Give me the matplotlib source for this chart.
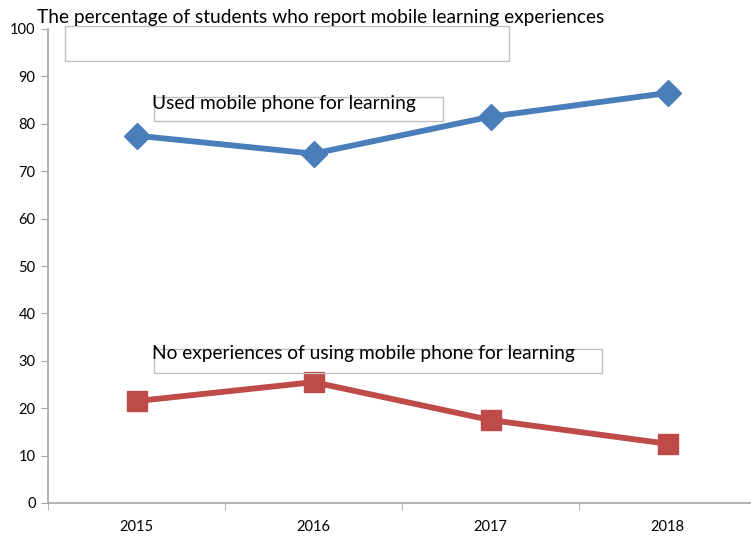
import matplotlib.pyplot as plt
from matplotlib.patches import Rectangle

years = ["2015", "2016", "2017", "2018"]
used_mobile = [77.5, 73.7, 81.5, 86.5]
no_experience = [21.5, 25.5, 17.5, 12.5]
title = "The percentage of students who report mobile learning experiences"
label_used = "Used mobile phone for learning"
label_none = "No experiences of using mobile phone for learning"

W, H = 751, 536
plt.rcParams['font.family'] = ['Lato', 'DejaVu Sans']

fig = plt.figure(figsize=(W / 100, H / 100), dpi=100)
# the plot area runs a little past the right edge, as in the original
ax = fig.add_axes([48 / W, 33 / H, 708 / W, 474 / H])

x = list(range(1, len(years) + 1))
ax.plot(x, used_mobile, color='#4a7ebb', lw=4.2, marker='D', ms=13.5,
        solid_joinstyle='round', clip_on=False)
ax.plot(x, no_experience, color='#be4b48', lw=4.2, marker='s', ms=15,
        solid_joinstyle='round', clip_on=False)

ax.set_ylim(0, 100)
ax.set_yticks(range(0, 101, 10))
ax.set_xlim(0.5, 4.5)
ax.set_xticks(x)
ax.set_xticklabels(years)
ax.set_xticks([0.5, 1.5, 2.5, 3.5, 4.5], minor=True)
ax.tick_params(axis='x', which='major', length=0, pad=12, labelsize=10.5)
ax.tick_params(axis='x', which='minor', length=5, color='#a6a6a6')
ax.tick_params(axis='y', length=5, color='#a6a6a6', labelsize=10.5, pad=4)
for s in ['top', 'right']:
    ax.spines[s].set_visible(False)
for s in ['left', 'bottom']:
    ax.spines[s].set_color('#a6a6a6')
    ax.spines[s].set_linewidth(1.2)


def box(x0, y0, x1, y1):
    # pixel coords from the top-left corner
    fig.patches.append(Rectangle((x0 / W, 1 - y1 / H), (x1 - x0) / W, (y1 - y0) / H,
                                 transform=fig.transFigure, fill=False,
                                 edgecolor='#bfbfbf', lw=1))


box(65, 26, 509, 61)
box(154, 97, 443, 121)
box(154, 349, 602, 373)

fig.text(37 / W, 1 - 17 / H, title, fontsize=13.8, va='center', ha='left')
fig.text(152 / W, 1 - 103 / H, label_used, fontsize=13.8, va='center', ha='left')
fig.text(152 / W, 1 - 354 / H, label_none, fontsize=13.8, va='center', ha='left')

plt.savefig("out.png", dpi=100)
